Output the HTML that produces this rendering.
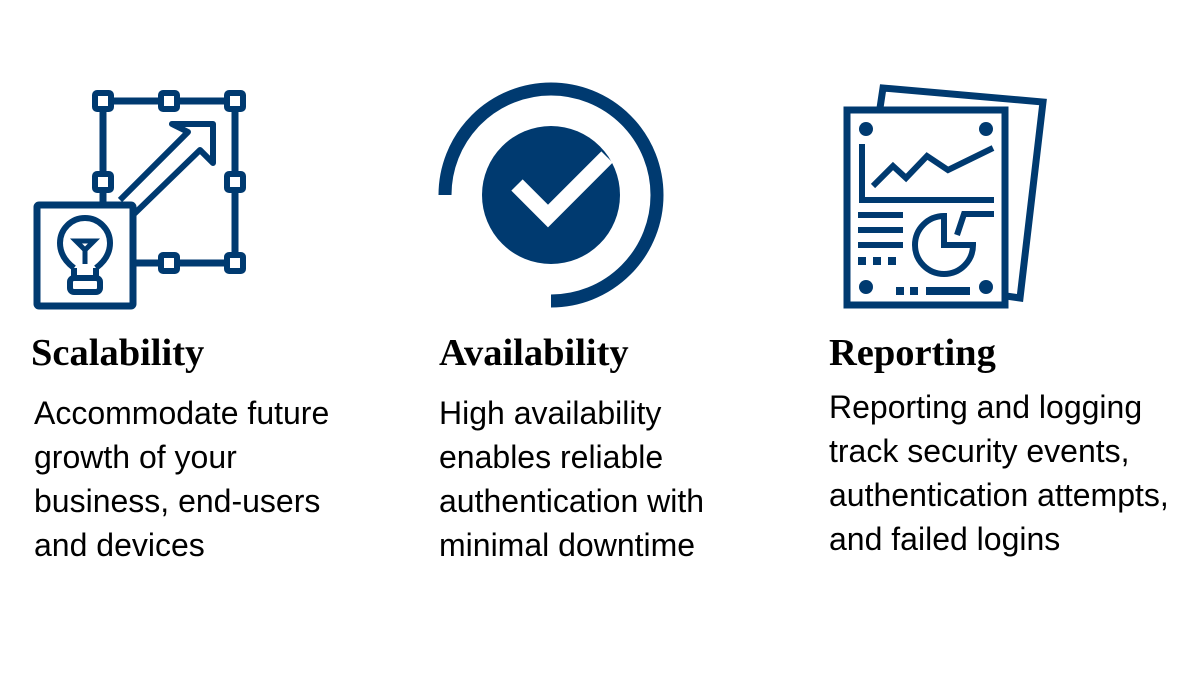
<!DOCTYPE html>
<html><head><meta charset="utf-8"><style>
body{margin:0;width:1200px;height:700px;background:#fff;position:relative;overflow:hidden}
svg{position:absolute;left:0;top:0}
.h{position:absolute;font-family:"Liberation Serif",serif;font-weight:bold;font-size:38.5px;color:#000;line-height:1}
.p{position:absolute;font-family:"Liberation Sans",sans-serif;font-size:32px;line-height:44px;color:#000}
</style></head><body>
<svg width="1200" height="700" viewBox="0 0 1200 700" fill="none" stroke="#003a70" stroke-width="7">
<path d="M103 101H235V263H169M103 101V204" />
<path d="M133 263H169" />
<g fill="#fff" stroke-width="6">
<rect x="95" y="93" width="16" height="16" rx="2"/><rect x="161" y="93" width="16" height="16" rx="2"/><rect x="227" y="93" width="16" height="16" rx="2"/>
<rect x="95" y="174" width="16" height="16" rx="2"/><rect x="227" y="174" width="16" height="16" rx="2"/>
<rect x="161" y="255" width="16" height="16" rx="2"/><rect x="227" y="255" width="16" height="16" rx="2"/>
</g>
<path d="M120 200L188 132L172 124H213V163L200 150L132 216" stroke-width="6" stroke-linejoin="round"/>
<rect x="37" y="205" width="96" height="101" fill="#fff" rx="2"/>
<path d="M74 268C66 262 60 254 60 243a25 25 0 0 1 50 0c0 11-6 19-14 25" stroke-width="6"/>
<path d="M74 268V280M96 268V280" stroke-width="6"/>
<rect x="70" y="278" width="30" height="14" rx="4" stroke-width="6"/>
<path d="M85 264V250L76 241H94L85 250" stroke-width="5"/>
<path d="M445 195A106 106 0 1 1 551 301" stroke-width="13"/>
<circle cx="551" cy="195" r="69" fill="#003a70" stroke="none"/>
<path d="M517 185L548 216L607 157" stroke="#fff" stroke-width="16"/>
<path d="M880 108L883 88L1043 102L1020 298L1006 296" />
<rect x="847" y="110" width="158" height="195"/>
<g fill="#003a70" stroke="none">
<circle cx="866" cy="129" r="7"/><circle cx="986" cy="129" r="7"/><circle cx="866" cy="287" r="7"/><circle cx="986" cy="287" r="7"/>
<rect x="858" y="257" width="8" height="8"/><rect x="873" y="257" width="8" height="8"/><rect x="888" y="257" width="8" height="8"/>
<rect x="896" y="287" width="8" height="8"/><rect x="910" y="287" width="8" height="8"/><rect x="926" y="287" width="44" height="8"/>
</g>
<path d="M862 144V200H994" stroke-width="6"/>
<path d="M873 186L893 166L906 178L927 156L948 170L993 148" stroke-width="6"/>
<path d="M858 215H903M858 230H903M858 245H903" stroke-width="6"/>
<path d="M944 216A29 29 0 1 0 973 245H944Z" stroke-width="6"/>
<path d="M957 235L964 214H994" stroke-width="6"/>
</svg>
<div class="h" style="left:31px;top:334px">Scalability</div>
<div class="h" style="left:439px;top:334px">Availability</div>
<div class="h" style="left:829px;top:334px">Reporting</div>
<div class="p" style="left:34px;top:391px">Accommodate future<br>growth of your<br>business, end-users<br>and devices</div>
<div class="p" style="left:439px;top:391px">High availability<br>enables reliable<br>authentication with<br>minimal downtime</div>
<div class="p" style="left:829px;top:385px">Reporting and logging<br>track security events,<br>authentication attempts,<br>and failed logins</div>
</body></html>
